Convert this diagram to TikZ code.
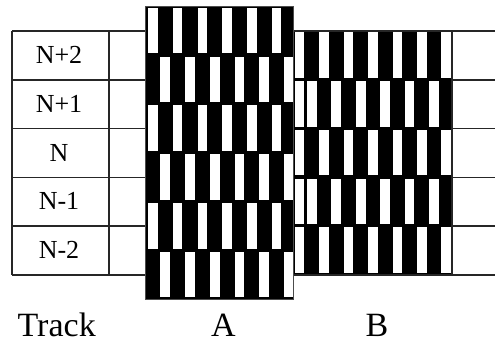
\documentclass[tikz,border=0pt]{standalone}
\usepackage{fontspec}
\setmainfont{Liberation Serif}
\newfontfamily\trkfont{Liberation Serif}
\usepackage{xcolor}
\newcommand{\trkBar}[2]{%
    \fill[white] (#1,#2+1.2) rectangle ++(9.7,45.5);
}
\newcommand{\trkSmallBar}[2]{%
    \fill[white] (#1,#2+1.2) rectangle ++(9.0,45.5);
}
\tikzset{
    trkline/.style={black!85, line width=1.6pt},
    trklabel/.style={anchor=base, inner sep=0pt, font=\trkfont\fontsize{26}{30}\selectfont},
    blklabel/.style={anchor=base, inner sep=0pt, font=\trkfont\fontsize{34}{40}\selectfont}
}

\begin{document}
\begin{tikzpicture}[x=1pt, y=-1pt]
    \useasboundingbox (0,0) rectangle (495,341);
    \foreach \r in {0,...,5} {
        \draw[trkline] (12,31+48.8*\r) -- (495,31+48.8*\r);
    }
    \draw[trkline] (12,31) -- (12,275);
    \draw[trkline] (109,31) -- (109,275);
    \foreach \i/\l in {0/N+2, 1/N+1, 2/N, 3/N-1, 4/N-2} {
        \node[trklabel] (trk\i) at (59, 63.5+48.8*\i) {\l};
    }
    % block A
    \fill[black] (145,6.6) rectangle (293.5,299.4);
    \foreach \j in {0,2,4} {
        \foreach \k in {0,...,5} {
            \trkBar{148+24.75*\k}{6.6+48.8*\j}
        }
    }
    \foreach \j in {1,3,5} {
        \foreach \k in {0,...,5} {
            \trkBar{160.4+24.75*\k}{6.6+48.8*\j}
        }
    }
    \draw[black!70, line width=0.8pt] (145,6.6) rectangle (293.5,299.4);
    % block B
    \fill[black] (293.5,31) rectangle (452,275);
    \foreach \j in {0,2,4} {
        \foreach \k in {0,...,6} {
            \trkBar{294.7+24.45*\k}{31+48.8*\j}
        }
    }
    \foreach \j in {1,3} {
        \trkSmallBar{294.7}{31+48.8*\j}
        \foreach \k in {0,...,5} {
            \trkBar{306.9+24.45*\k}{31+48.8*\j}
        }
    }
    \draw[trkline] (293.5,31) -- (495,31);
    \draw[trkline] (293.5,275) -- (495,275);
    \draw[trkline] (452,31) -- (452,275);
    \node[blklabel] (track) at (56.7,336) {Track};
    \node[blklabel] (a) at (223.5,336) {A};
    \node[blklabel] (b) at (377,336) {B};
\end{tikzpicture}
\end{document}
